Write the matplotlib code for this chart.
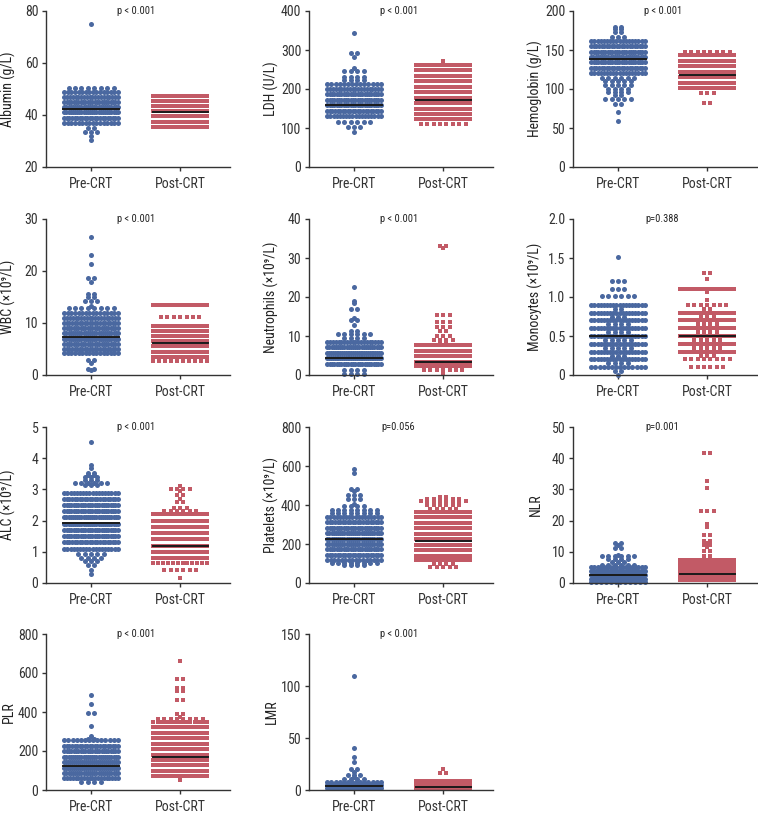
import numpy as np
import matplotlib.pyplot as plt

plt.rcParams['font.family'] = ['Liberation Sans Narrow', 'Roboto Condensed', 'DejaVu Sans Condensed',
                               'Roboto', 'DejaVu Sans']
plt.rcParams['font.stretch'] = 'condensed'

BLUE = '#4A68A0'
RED = '#C25A66'
groups = ['Pre-CRT', 'Post-CRT']

# Data: value levels and number of patients at each level

alb_pre_y = [75, 50.5, 49, 47, 45, 43, 41, 39, 37, 35, 33.5, 32, 30.5]
alb_pre_n = [1, 8, 16, 20, 24, 26, 26, 22, 16, 2, 3, 1, 1]
alb_post_y = [47.5, 45.5, 43.5, 41.5, 39.5, 37.5, 35.5]
alb_post_n = [18, 22, 26, 28, 26, 22, 16]

ldh_pre_y = [343, 293, 283, 254, 245, 232, 222, 214, 200, 186, 172, 158, 144, 130, 116, 102, 90]
ldh_pre_n = [1, 2, 1, 1, 4, 4, 4, 14, 20, 24, 24, 24, 22, 18, 6, 3, 1]
ldh_post_y = [271, 262, 248, 234, 220, 206, 192, 178, 164, 150, 136, 122, 109]
ldh_post_n = [1, 18, 20, 22, 22, 24, 24, 24, 24, 24, 22, 16, 8]

hb_pre_y = [180, 177, 173, 167, 162, 155, 148, 141, 134, 127, 120,
            114, 110, 105, 100, 96, 92, 87, 81, 70, 59]
hb_pre_n = [2, 2, 2, 3, 18, 22, 24, 26, 24, 22, 18, 6, 5, 5, 4, 4, 2, 5, 2, 1, 1]
hb_post_y = [147, 143, 136, 129, 122, 115, 108, 101, 95, 82]
hb_post_n = [8, 20, 24, 26, 28, 26, 24, 18, 3, 2]

wbc_pre_y = [26.6, 23.1, 21.3, 18.7, 17.8, 15.6, 15.0, 14.3, 13.3, 12.8,
             12, 11, 10, 9, 8, 7, 6, 5, 4.2, 2.8, 2.4, 1.2, 0.9]
wbc_pre_n = [1, 1, 1, 2, 1, 2, 2, 3, 1, 8, 16, 20, 22, 24, 26, 26, 24, 22, 16, 2, 1, 2, 1]
wbc_post_y = [13.4, 11.1, 9.5, 8.5, 7.5, 6.5, 5.5, 4.5, 3.5, 2.6]
wbc_post_n = [18, 7, 22, 26, 28, 28, 26, 22, 16, 10]

neu_pre_y = [22.6, 19.1, 18.5, 16.8, 14.6, 14.0, 12.9, 11.4, 10.6, 9.5,
             8.5, 7.1, 5.7, 4.3, 2.9, 1.4, 0.3]
neu_pre_n = [1, 1, 1, 2, 1, 2, 1, 2, 6, 4, 20, 26, 30, 30, 24, 4, 4]
neu_post_y = [33.2, 32.5, 15.3, 13.6, 12.3, 11.2, 10.0, 9.1, 8.3,
              7.6, 6.2, 4.8, 3.4, 2.2, 1.2, 0.2]
neu_post_n = [2, 1, 3, 3, 3, 2, 3, 4, 2, 16, 24, 28, 30, 22, 7, 1]

mono_pre_y = [1.51, 1.21, 1.10, 1.01, 0.90, 0.85, 0.80, 0.75, 0.70, 0.65, 0.60, 0.55, 0.50,
              0.45, 0.40, 0.35, 0.30, 0.25, 0.20, 0.15, 0.10, 0.05, 0.0]
mono_pre_n = [1, 3, 3, 6, 18, 2, 18, 3, 18, 4, 18, 4, 18, 5, 18, 5, 18, 3, 18, 4, 14, 2, 1]
mono_post_y = [1.31, 1.23, 1.10, 1.07, 0.96, 0.90, 0.85, 0.80, 0.75, 0.70, 0.65, 0.60, 0.55,
               0.50, 0.45, 0.40, 0.35, 0.30, 0.25, 0.20, 0.10]
mono_post_n = [2, 1, 18, 1, 1, 7, 2, 18, 3, 18, 4, 18, 4, 18, 5, 18, 5, 18, 3, 8, 6]

alc_pre_y = [4.53, 3.79, 3.70, 3.54, 3.47, 3.41, 3.31, 3.20, 3.13,
             2.9, 2.7, 2.5, 2.3, 2.1, 1.9, 1.7, 1.5, 1.3, 1.1,
             0.92, 0.8, 0.7, 0.57, 0.43, 0.28]
alc_pre_n = [1, 1, 1, 2, 2, 3, 3, 6, 3, 18, 22, 24, 24, 26, 26, 24, 24, 22, 18, 5, 4, 3, 2, 1, 1]
alc_post_y = [3.12, 3.02, 2.94, 2.83, 2.69, 2.60, 2.40, 2.30,
              2.2, 2.0, 1.8, 1.6, 1.4, 1.2, 1.0, 0.8, 0.64, 0.43, 0.15]
alc_post_n = [1, 4, 1, 2, 1, 2, 3, 6, 16, 22, 26, 28, 28, 26, 24, 18, 12, 6, 1]

plt_pre_y = [586, 562, 484, 470, 453, 431, 407, 393, 376, 359,
             340, 312, 284, 256, 228, 200, 172, 144, 120, 104, 90]
plt_pre_n = [1, 1, 2, 1, 3, 3, 1, 4, 8, 8, 18, 22, 24, 26, 26, 26, 24, 22, 16, 8, 4]
plt_post_y = [441, 432, 419, 400, 380, 365, 337, 309, 281, 253, 225, 197, 169, 141, 118, 100, 80]
plt_post_n = [2, 6, 8, 6, 5, 16, 22, 24, 26, 26, 26, 26, 24, 22, 18, 4, 5]

nlr_pre_y = [12.8, 12.2, 11.1, 9.1, 8.5, 7.6, 6.6, 5.8, 5.0, 3.8, 2.6, 1.4, 0.4]
nlr_pre_n = [2, 1, 2, 1, 6, 4, 3, 6, 18, 26, 30, 30, 12]
nlr_post_y = [41.6, 32.8, 30.4, 23.0, 18.9, 17.9, 15.5, 13.6, 12.9, 12.3, 11.6, 10.4, 8.6,
              7.5, 6.2, 4.9, 3.6, 2.3, 1.0]
nlr_post_n = [2, 1, 1, 3, 1, 1, 2, 2, 1, 2, 1, 2, 2, 18, 24, 28, 32, 30, 16]

plr_pre_y = [487, 443, 393, 327, 276, 264, 255, 227, 199, 171, 143, 115, 87, 60, 40]
plr_pre_n = [1, 1, 2, 1, 1, 2, 14, 22, 24, 26, 28, 28, 26, 20, 4]
plr_post_y = [664, 569, 524, 507, 460, 388, 376, 363,
              350, 322, 294, 266, 238, 210, 182, 154, 126, 98, 70, 51]
plr_post_n = [1, 2, 2, 2, 2, 2, 1, 8, 14, 20, 24, 26, 26, 28, 28, 28, 26, 24, 20, 1]

lmr_pre_y = [110, 40.4, 31.4, 27.2, 20.2, 17.0, 14.7, 12.2, 10.5, 8, 5, 2]
lmr_pre_n = [1, 1, 1, 1, 2, 1, 3, 1, 4, 14, 30, 34]
lmr_post_y = [20.2, 16.0, 9.0, 5.5, 2.0]
lmr_post_n = [1, 2, 16, 30, 34]

# medians (pre, post)
alb_med = [42.5, 41.3]
ldh_med = [159, 173]
hb_med = [138.2, 117.7]
wbc_med = [7.3, 6.2]
neu_med = [4.4, 3.4]
mono_med = [0.5, 0.5]
alc_med = [1.93, 1.2]
plt_med = [227, 214]
nlr_med = [2.45, 2.77]
plr_med = [124, 167]
lmr_med = [4.2, 2.6]

panels = [
    ('Albumin (g/L)', [20, 40, 60, 80], 'p < 0.001', alb_pre_y, alb_pre_n, alb_post_y, alb_post_n, alb_med),
    ('LDH (U/L)', [0, 100, 200, 300, 400], 'p < 0.001', ldh_pre_y, ldh_pre_n, ldh_post_y, ldh_post_n, ldh_med),
    ('Hemoglobin (g/L)', [0, 50, 100, 150, 200], 'p < 0.001', hb_pre_y, hb_pre_n, hb_post_y, hb_post_n, hb_med),
    ('WBC (\u00d710\u2079/L)', [0, 10, 20, 30], 'p < 0.001', wbc_pre_y, wbc_pre_n, wbc_post_y, wbc_post_n, wbc_med),
    ('Neutrophils (\u00d710\u2079/L)', [0, 10, 20, 30, 40], 'p < 0.001', neu_pre_y, neu_pre_n, neu_post_y, neu_post_n, neu_med),
    ('Monocytes (\u00d710\u2079/L)', [0, 0.5, 1.0, 1.5, 2.0], 'p=0.388', mono_pre_y, mono_pre_n, mono_post_y, mono_post_n, mono_med),
    ('ALC (\u00d710\u2079/L)', [0, 1, 2, 3, 4, 5], 'p < 0.001', alc_pre_y, alc_pre_n, alc_post_y, alc_post_n, alc_med),
    ('Platelets (\u00d710\u2079/L)', [0, 200, 400, 600, 800], 'p=0.056', plt_pre_y, plt_pre_n, plt_post_y, plt_post_n, plt_med),
    ('NLR', [0, 10, 20, 30, 40, 50], 'p=0.001', nlr_pre_y, nlr_pre_n, nlr_post_y, nlr_post_n, nlr_med),
    ('PLR', [0, 200, 400, 600, 800], 'p < 0.001', plr_pre_y, plr_pre_n, plr_post_y, plr_post_n, plr_med),
    ('LMR', [0, 50, 100, 150], 'p < 0.001', lmr_pre_y, lmr_pre_n, lmr_post_y, lmr_post_n, lmr_med),
]


def swarm(center, levels, counts, step=0.072, half=0.30):
    # Prism-like rows: points sharing a level are centred, squeezed when the row is full
    xs, ys = [], []
    for y, n in zip(levels, counts):
        gap = step if n < 2 else min(step, 2 * half / (n - 1))
        xs.extend(center + (np.arange(n) - (n - 1) / 2) * gap)
        ys.extend([y] * n)
    return np.array(xs), np.array(ys)


W, H = 758, 818
fig = plt.figure(figsize=(W / 100, H / 100), dpi=100)
lefts = [46, 309, 573]
tops = [11, 219, 427, 634]
aw, ah = 184, 156

for i, (label, ticks, pval, pre_y, pre_n, post_y, post_n, med) in enumerate(panels):
    r, c = divmod(i, 3)
    ax = fig.add_axes([lefts[c] / W, 1 - (tops[r] + ah) / H, aw / W, ah / H])

    x0, y0 = swarm(0, pre_y, pre_n)
    x1, y1 = swarm(1, post_y, post_n)
    ax.scatter(x0, y0, s=13, marker='o', color=BLUE, linewidths=0, clip_on=False, zorder=2)
    ax.scatter(x1, y1, s=12.5, marker='s', color=RED, linewidths=0, clip_on=False, zorder=2)
    for k, m in enumerate(med):
        ax.plot([k - 0.31, k + 0.31], [m, m], color='#1a1a1a', lw=1.4, zorder=3)

    ax.set_xlim(-0.506, 1.56)
    ax.set_ylim(ticks[0], ticks[-1])
    ax.set_yticks(ticks)
    if label.startswith('Monocytes'):
        ax.set_yticklabels(['0', '0.5', '1.0', '1.5', '2.0'])
    ax.set_xticks([0, 1])
    ax.set_xticklabels(groups)
    ax.set_ylabel(label, fontsize=10, color='#222222')
    ax.yaxis.set_label_coords(-0.162, 0.5)
    ax.text(0.5, ticks[-1], pval, ha='center', va='center', fontsize=7.5, color='#222222')

    for s in ['top', 'right']:
        ax.spines[s].set_visible(False)
    for s in ['left', 'bottom']:
        ax.spines[s].set_linewidth(1.0)
        ax.spines[s].set_color('#333333')
    ax.tick_params(axis='both', direction='out', length=3, width=1.0, color='#333333',
                   labelsize=10, labelcolor='#333333', pad=2.5)
    ax.tick_params(axis='x', pad=4)

plt.savefig('out.png', dpi=100)
